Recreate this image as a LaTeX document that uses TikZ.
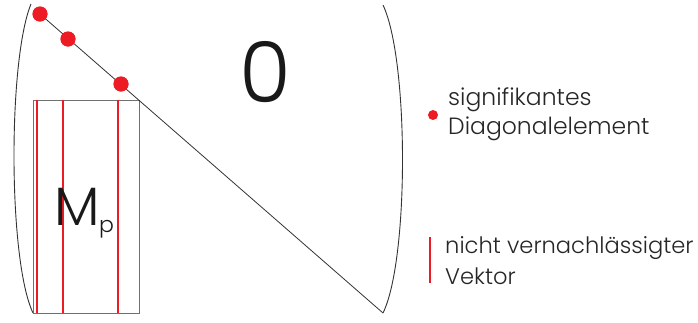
\documentclass[tikz,border=0pt]{standalone}
\usepackage{fontspec}
\setmainfont{Poppins Light}
\definecolor{dotred}{HTML}{ED1C24}
\definecolor{boxgray}{HTML}{707070}
\definecolor{linegray}{HTML}{333333}
\tikzset{
  reddot/.style={circle,fill=dotred,inner sep=0pt,minimum size=15pt},
  legdot/.style={circle,fill=dotred,inner sep=0pt,minimum size=10pt},
  vecline/.style={dotred,line width=2.2pt},
  paren/.style={linegray,line width=0.9pt},
  diag/.style={linegray,line width=0.8pt},
  txt/.style={inner sep=0pt,text=black!85,align=left},
}
\begin{document}
\begin{tikzpicture}[x=1pt,y=-1pt]
\useasboundingbox (0,0) rectangle (698,322);
% parentheses
\draw[paren] (31,4) .. controls (8,60) and (8,260) .. (33,313);
\draw[paren] (383,5) .. controls (409,60) and (409,260) .. (383,313);
% box
\node[draw=boxgray,line width=1.2pt,minimum width=106pt,minimum height=213pt,inner sep=0pt,anchor=north west] (box) at (33,100) {};
\coordinate (v1t) at (37,100); \coordinate (v1b) at (37,313);
\coordinate (v2t) at (63,100); \coordinate (v2b) at (63,313);
\coordinate (v3t) at (118,100); \coordinate (v3b) at (118,313);
\draw[vecline] (v1t) -- (v1b);
\draw[vecline] (v2t) -- (v2b);
\draw[vecline] (v3t) -- (v3b);
% diagonal
\coordinate (dend) at (383,313);
\node[reddot] (d1) at (40,14) {};
\node[reddot] (d2) at (68,39) {};
\node[reddot] (d3) at (121,84) {};
\draw[diag] (d1.center) -- (dend);
\node[reddot] at (40,14) {};
\node[reddot] at (68,39) {};
\node[reddot] at (121,84) {};
% labels
\node[inner sep=0pt,text=black!90,font=\fontsize{84}{84}\selectfont] (zero) at (265,72) {0};
\node[inner sep=0pt,anchor=base west,text=black!90,font=\fontsize{54}{54}\selectfont] (M) at (54,225) {M};
\node[inner sep=0pt,anchor=base west,text=black!90,font=\fontsize{22}{22}\selectfont] (p) at (99,232) {p};
% legend
\node[legdot] (ld) at (433,115) {};
\node[txt,anchor=base west,font=\fontsize{23.5}{29}\selectfont] (l1) at (448,134) {signifikantes\\Diagonalelement};
\coordinate (lbt) at (430,237); \coordinate (lbb) at (430,283);
\draw[dotred,line width=2pt] (lbt) -- (lbb);
\node[txt,anchor=base west,font=\fontsize{22.6}{31}\selectfont] (l2) at (445,284) {nicht vernachlässigter\\Vektor};
\end{tikzpicture}
\end{document}
